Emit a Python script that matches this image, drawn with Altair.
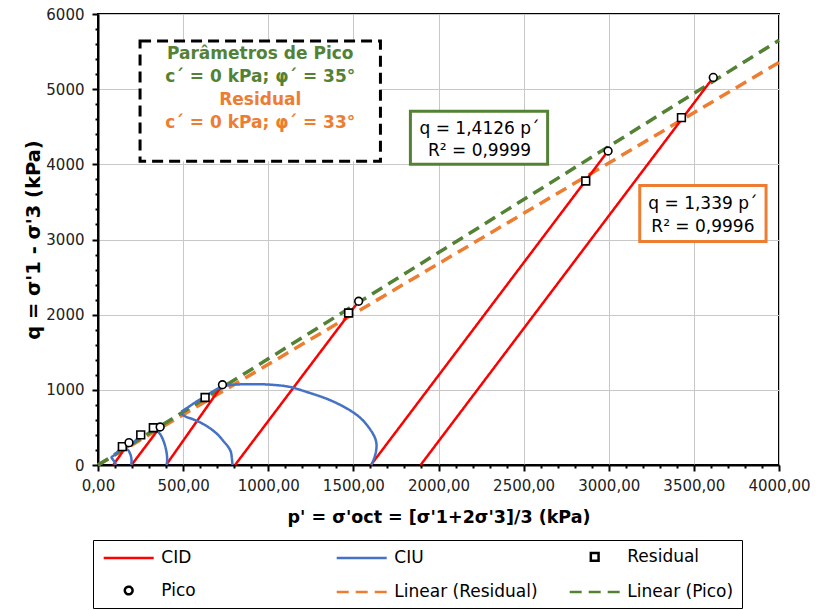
import altair as alt
import pandas as pd

# ---------------- data ----------------
# CID (drained) stress paths: straight lines from start to peak
cid_tests = ["CID100", "CID200", "CID400", "CID800", "CID1600", "CID1900"]
cid_p = [[90, 182], [197, 365], [400, 731], [805, 1531], [1603, 2996], [1895, 3614]]
cid_q = [[0, 297], [0, 505], [0, 1067], [0, 2178], [0, 4178], [0, 5156]]

# CIU (undrained) stress paths
ciu_tests = ["CIU100", "CIU200", "CIU400", "CIU800", "CIU1600"]
ciu_p = [
    [105, 98, 85, 80, 100, 143],
    [195, 197, 192, 180, 165, 200, 251],
    [405, 406, 400, 388, 368, 340],
    [790, 782, 765, 741, 710, 671, 630, 594, 550, 518, 490],
    [1606, 1630, 1635, 1612, 1553, 1476, 1359, 1224, 1124, 1024, 929, 829, 760,
     712, 671, 620, 576, 530, 490],
]
ciu_q = [
    [0, 40, 80, 105, 140, 244],
    [0, 60, 130, 190, 230, 280, 400],
    [0, 100, 200, 300, 400, 470],
    [0, 160, 240, 307, 390, 467, 530, 573, 615, 640, 680],
    [0, 150, 293, 427, 600, 733, 867, 973, 1040, 1067, 1075, 1072, 1060,
     1027, 973, 900, 840, 770, 710],
]

# Residual and peak points
res_p = [143, 251, 325, 629, 1472, 2865, 3427]
res_q = [244, 400, 495, 898, 2022, 3778, 4622]
pico_p = [182, 365, 731, 1531, 2996, 3614]
pico_q = [297, 505, 1067, 2178, 4178, 5156]

# Linear trendlines (through origin)
fit_p = [0, 4000]
fit_res_q = [0, 5356]      # q = 1,339 p'
fit_pico_q = [0, 5650.4]   # q = 1,4126 p'

series_names = ["CID", "CIU", "Residual", "Pico", "Linear (Residual)", "Linear (Pico)"]
series_colors = ["#FF0000", "#4472C4", "#000000", "#000000", "#ED7D31", "#548235"]

x_ticks = list(range(0, 4001, 100))
y_ticks = list(range(0, 6001, 200))

box_text = ["Parâmetros de Pico", "c´ = 0 kPa; φ´ = 35°", "Residual", "c´ = 0 kPa; φ´ = 33°"]
eq_pico = ["q = 1,4126 p´", "R² = 0,9999"]
eq_res = ["q = 1,339 p´", "R² = 0,9996"]

# ---------------- tables ----------------
rows = []
for t, ps, qs in zip(cid_tests, cid_p, cid_q):
    for i, (p, q) in enumerate(zip(ps, qs)):
        rows.append(dict(p=p, q=q, test=t, series="CID", order=i))
for t, ps, qs in zip(ciu_tests, ciu_p, ciu_q):
    for i, (p, q) in enumerate(zip(ps, qs)):
        rows.append(dict(p=p, q=q, test=t, series="CIU", order=i))
for i, (p, q) in enumerate(zip(fit_p, fit_res_q)):
    rows.append(dict(p=p, q=q, test="fitres", series="Linear (Residual)", order=i))
for i, (p, q) in enumerate(zip(fit_p, fit_pico_q)):
    rows.append(dict(p=p, q=q, test="fitpico", series="Linear (Pico)", order=i))
lines_df = pd.DataFrame(rows)

pts_df = pd.DataFrame(
    [dict(p=p, q=q, series="Residual") for p, q in zip(res_p, res_q)]
    + [dict(p=p, q=q, series="Pico") for p, q in zip(pico_p, pico_q)]
)

# annotation boxes in data coordinates
box_params = pd.DataFrame([dict(p=247, p2=1659, q=5640, q2=4040)])
eqbox_pico = pd.DataFrame([dict(p=1835, p2=2641, q=4707, q2=4000)])
eqbox_res = pd.DataFrame([dict(p=3182, p2=3924, q=3720, q2=2973)])

params_green = pd.DataFrame({"p": [953, 953], "q": [5467, 5160], "t": box_text[:2]})
params_orange = pd.DataFrame({"p": [953, 953], "q": [4853, 4547], "t": box_text[2:]})
eq_pico_df = pd.DataFrame({"p": [2241, 2241], "q": [4467, 4173], "t": eq_pico})
eq_res_df = pd.DataFrame({"p": [3553, 3553], "q": [3467, 3160], "t": eq_res})

# ---------------- scales / axes ----------------
FONT = "DejaVu Sans"
xscale = alt.Scale(domain=[0, 4000], nice=False, zero=False)
yscale = alt.Scale(domain=[0, 6000], nice=False, zero=False)

xaxis = alt.Axis(
    values=x_ticks,
    labelExpr="datum.value % 500 === 0 ? replace(format(datum.value, '.2f'), '.', ',') : ''",
    labelOverlap=False,
    labelFlush=False,
    tickSize={"condition": {"test": "datum.value % 500 === 0", "value": 6}, "value": 3},
    gridOpacity={"condition": {"test": "datum.value % 500 === 0", "value": 1}, "value": 0},
    title="p' = σ'oct = [σ'1+2σ'3]/3 (kPa)",
    titlePadding=15,
    labelPadding=7,
    titleFontSize=17.5,
)
yaxis = alt.Axis(
    values=y_ticks,
    labelExpr="datum.value % 1000 === 0 ? format(datum.value, 'd') : ''",
    labelOverlap=False,
    labelFlush=False,
    tickSize={"condition": {"test": "datum.value % 1000 === 0", "value": 6}, "value": 3},
    gridOpacity={"condition": {"test": "datum.value % 1000 === 0", "value": 1}, "value": 0},
    title="q = σ'1 - σ'3 (kPa)",
    titlePadding=2,
    labelPadding=8,
    titleFontSize=19.5,
)

LINE_SYM = "M-3,0H3"
legend = alt.Legend(
    title=None, orient="none", legendX=-5, legendY=526, direction="horizontal",
    columns=3, gridAlign="all", columnPadding=26, rowPadding=15, padding=8,
    strokeColor="black", labelFont=FONT, labelFontSize=17, labelColor="black",
    symbolOffset=17.7, labelOffset=22.6, symbolStrokeWidth=2.5, labelLimit=400,
)

color = alt.Color("series:N", scale=alt.Scale(domain=series_names, range=series_colors), legend=legend)
dash = alt.StrokeDash("series:N", scale=alt.Scale(domain=series_names,
                      range=[[1, 0], [1, 0], [1, 0], [1, 0], [12, 7], [12, 7]]), legend=legend)
shape = alt.Shape("series:N", scale=alt.Scale(domain=series_names,
                  range=[LINE_SYM, LINE_SYM, "square", "circle", LINE_SYM, LINE_SYM]), legend=legend)
size = alt.Size("series:N", scale=alt.Scale(type="ordinal", domain=series_names,
                range=[278, 278, 60, 60, 278, 278]), legend=legend)

X = alt.X("p:Q", scale=xscale, axis=xaxis)
Y = alt.Y("q:Q", scale=yscale, axis=yaxis)

base_lines = alt.Chart(lines_df)
cid_layer = base_lines.transform_filter("datum.series === 'CID'").mark_line(strokeWidth=2.5).encode(
    x=X, y=Y, detail="test:N", order="order:Q", color=color, strokeDash=dash)
ciu_layer = base_lines.transform_filter("datum.series === 'CIU'").mark_line(
    strokeWidth=2.5, interpolate="cardinal").encode(
    x=X, y=Y, detail="test:N", order="order:Q", color=color, strokeDash=dash)
fit_layer = base_lines.transform_filter("indexof(datum.series, 'Linear') === 0").mark_line(strokeWidth=3.5).encode(
    x=X, y=Y, detail="test:N", order="order:Q", color=color, strokeDash=dash)

pts_layer = alt.Chart(pts_df).mark_point(filled=False, fill="white", strokeWidth=1.6, opacity=1).encode(
    x=X, y=Y, color=color, shape=shape, size=size)

def rect(df, stroke, dashed):
    kw = dict(fill="white", stroke=stroke, strokeWidth=3)
    if dashed:
        kw["strokeDash"] = [11, 6]
    return alt.Chart(df).mark_rect(**kw).encode(x=X, x2="p2:Q", y=Y, y2="q2:Q")

def txt(df, col, bold):
    return alt.Chart(df).mark_text(font=FONT, fontSize=17, fontWeight="bold" if bold else "normal",
                                   color=col, align="center", baseline="middle").encode(
        x=X, y=Y, text="t:N")

chart = alt.layer(
    fit_layer, cid_layer, ciu_layer, pts_layer,
    rect(box_params, "black", True), rect(eqbox_pico, "#548235", False), rect(eqbox_res, "#ED7D31", False),
    txt(params_green, "#548235", True), txt(params_orange, "#ED7D31", True),
    txt(eq_pico_df, "black", False), txt(eq_res_df, "black", False),
).properties(
    width=681, height=451,
    autosize=alt.AutoSizeParams(type="none"),
    padding={"left": 98, "top": 14, "right": 37, "bottom": 145},
    background="white",
).configure_view(
    stroke="black", strokeWidth=2,
).configure_axis(
    domainColor="black", domainWidth=2, tickColor="black", tickWidth=2,
    gridColor="#C8C8C8", gridWidth=1,
    labelFont=FONT, labelFontSize=15, labelColor="#222222",
    titleFont=FONT, titleFontWeight="bold", titleColor="black",
)

chart.save("out.html", embed_options={"renderer": "svg", "actions": False})
